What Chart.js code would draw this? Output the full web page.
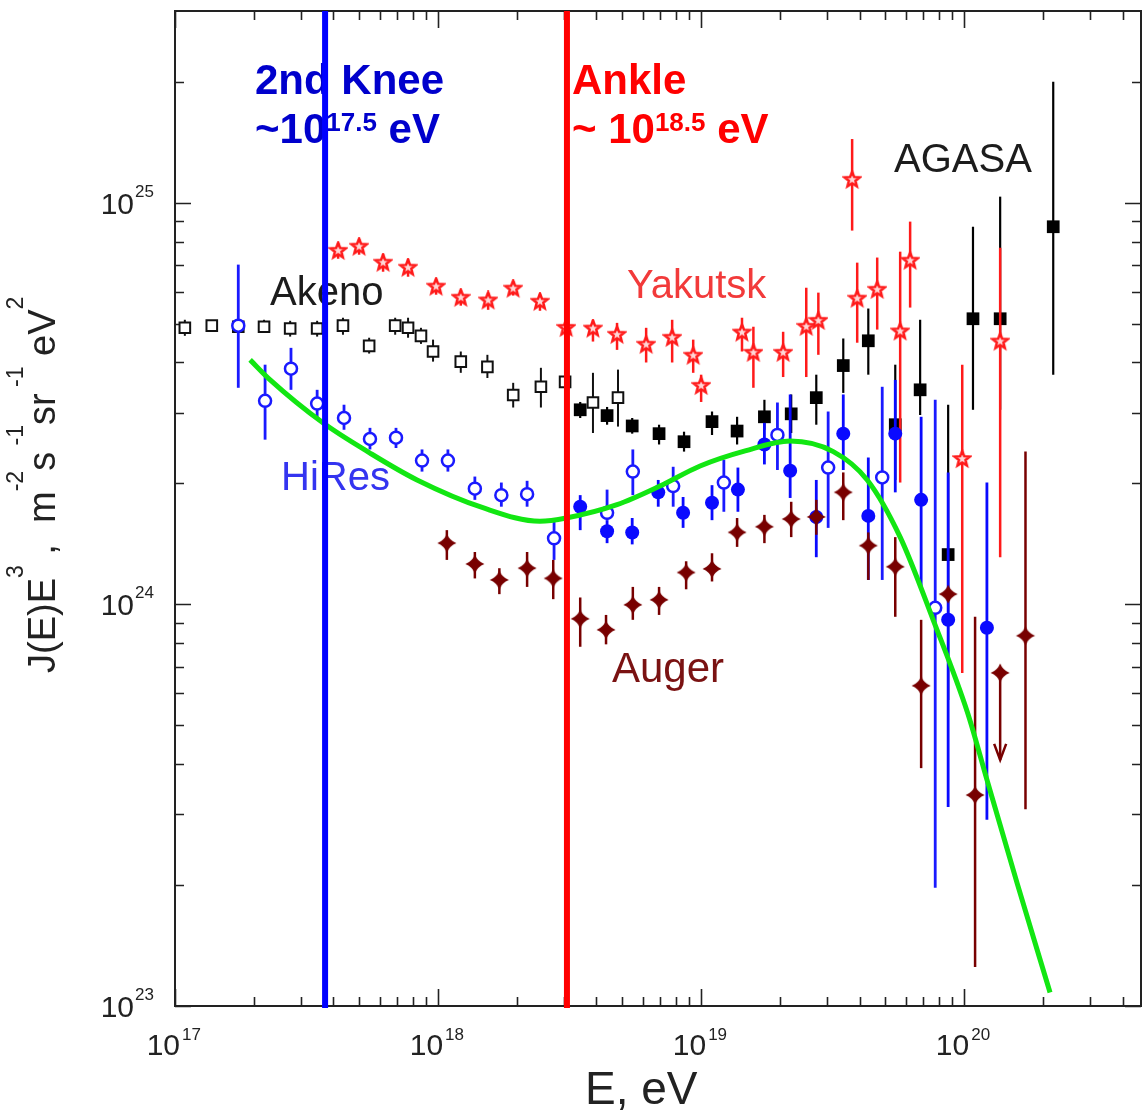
<!DOCTYPE html>
<html>
<head>
<meta charset="utf-8">
<script src="https://cdn.jsdelivr.net/npm/chart.js@4.4.1/dist/chart.umd.min.js"></script>
<style>
  html, body { margin: 0; padding: 0; background: #fff; }
  #chart { display: block; }
</style>
</head>
<body>
<canvas id="chart" width="1142" height="1111"></canvas>
<script>
// E in eV, J(E)E^3 in m^-2 s^-1 sr^-1 eV^2, error bar ends
const akenoE  = [1.09e17, 1.38e17, 1.74e17, 2.18e17, 2.74e17, 3.47e17, 4.35e17, 5.47e17, 6.87e17, 7.69e17, 8.61e17, 9.57e17, 1.22e18, 1.54e18, 1.93e18, 2.46e18, 3.04e18, 3.88e18, 4.83e18];
const akenoJ  = [4.88e24, 4.94e24, 4.91e24, 4.91e24, 4.86e24, 4.86e24, 4.94e24, 4.40e24, 4.94e24, 4.88e24, 4.66e24, 4.26e24, 4.02e24, 3.90e24, 3.32e24, 3.48e24, 3.58e24, 3.18e24, 3.27e24];
const akenoHi = [5.11e24, 5.08e24, 5.08e24, 5.11e24, 5.08e24, 5.08e24, 5.17e24, 4.61e24, 5.17e24, 5.17e24, 4.88e24, 4.56e24, 4.26e24, 4.18e24, 3.56e24, 3.88e24, 3.95e24, 3.77e24, 3.84e24];
const akenoLo = [4.66e24, 4.77e24, 4.75e24, 4.75e24, 4.64e24, 4.64e24, 4.69e24, 4.21e24, 4.69e24, 4.61e24, 4.45e24, 4.02e24, 3.77e24, 3.66e24, 3.09e24, 3.09e24, 3.19e24, 2.67e24, 2.77e24];

const agasaE  = [3.47e18, 4.39e18, 5.47e18, 6.92e18, 8.61e18, 1.10e19, 1.37e19, 1.74e19, 2.20e19, 2.74e19, 3.47e19, 4.32e19, 5.47e19, 6.80e19, 8.69e19, 1.08e20, 1.37e20, 2.18e20];
const agasaJ  = [3.05e24, 2.95e24, 2.78e24, 2.66e24, 2.54e24, 2.85e24, 2.70e24, 2.93e24, 2.98e24, 3.27e24, 3.93e24, 4.53e24, 2.80e24, 3.42e24, 1.33e24, 5.14e24, 5.14e24, 8.71e24];
const agasaHi = [3.19e24, 3.10e24, 2.91e24, 2.80e24, 2.69e24, 3.02e24, 2.93e24, 3.23e24, 3.33e24, 3.73e24, 4.59e24, 5.45e24, 3.95e24, 5.11e24, 3.14e24, 8.71e24, 1.035e25, 2.0e25];
const agasaLo = [2.91e24, 2.80e24, 2.66e24, 2.50e24, 2.40e24, 2.64e24, 2.50e24, 2.72e24, 2.67e24, 2.80e24, 3.36e24, 3.73e24, 2.04e24, 2.96e24, 5.78e23, 3.05e24, 3.05e24, 3.73e24];

const yakutskE  = [4.17e17, 5.01e17, 6.18e17, 7.69e17, 9.83e17, 1.22e18, 1.55e18, 1.93e18, 2.44e18, 3.07e18, 3.88e18, 4.79e18, 6.18e18, 7.76e18, 9.33e18, 1.0e19, 1.43e19, 1.58e19, 2.05e19, 2.51e19, 2.79e19, 3.75e19, 3.92e19, 4.67e19, 5.71e19, 6.23e19, 9.83e19, 1.37e20];
const yakutskJ  = [7.59e24, 7.77e24, 7.09e24, 6.89e24, 6.18e24, 5.80e24, 5.71e24, 6.11e24, 5.67e24, 4.88e24, 4.86e24, 4.69e24, 4.43e24, 4.61e24, 4.16e24, 3.50e24, 4.75e24, 4.23e24, 4.23e24, 4.91e24, 5.08e24, 1.14e25, 5.77e24, 6.07e24, 4.78e24, 7.17e24, 2.30e24, 4.51e24];
const yakutskHi = [7.95e24, 8.13e24, 7.46e24, 7.25e24, 6.47e24, 6.07e24, 5.97e24, 6.37e24, 5.94e24, 5.11e24, 5.11e24, 5.02e24, 4.88e24, 5.11e24, 4.56e24, 3.73e24, 5.17e24, 4.91e24, 4.77e24, 6.14e24, 5.97e24, 1.44e25, 7.09e24, 7.30e24, 7.55e24, 8.97e24, 3.95e24, 7.72e24];
const yakutskLo = [7.25e24, 7.42e24, 6.73e24, 6.54e24, 5.90e24, 5.54e24, 5.41e24, 5.87e24, 5.38e24, 4.66e24, 4.51e24, 4.30e24, 4.00e24, 4.00e24, 3.77e24, 3.19e24, 4.26e24, 3.46e24, 3.68e24, 3.68e24, 4.18e24, 8.52e24, 4.48e24, 4.83e24, 2.01e24, 5.48e24, 6.75e23, 1.31e24];

const hiresOpenE  = [1.74e17, 2.20e17, 2.76e17, 3.47e17, 4.39e17, 5.51e17, 6.92e17, 8.69e17, 1.09e18, 1.38e18, 1.74e18, 2.18e18, 2.76e18, 4.39e18, 5.50e18, 7.83e18, 1.22e19, 1.95e19, 3.04e19, 4.88e19, 7.76e19];
const hiresOpenJ  = [4.94e24, 3.21e24, 3.86e24, 3.16e24, 2.91e24, 2.58e24, 2.60e24, 2.28e24, 2.28e24, 1.94e24, 1.87e24, 1.88e24, 1.46e24, 1.69e24, 2.14e24, 1.97e24, 2.01e24, 2.64e24, 2.19e24, 2.07e24, 9.80e23];
const hiresOpenHi = [7.01e24, 3.95e24, 4.35e24, 3.42e24, 3.14e24, 2.75e24, 2.75e24, 2.43e24, 2.43e24, 2.08e24, 2.01e24, 2.03e24, 1.61e24, 1.93e24, 2.43e24, 2.20e24, 2.29e24, 3.18e24, 3.02e24, 3.48e24, 3.23e24];
const hiresOpenLo = [3.46e24, 2.57e24, 3.42e24, 2.91e24, 2.72e24, 2.43e24, 2.45e24, 2.14e24, 2.14e24, 1.82e24, 1.75e24, 1.75e24, 1.29e24, 1.62e24, 1.87e24, 1.75e24, 1.70e24, 2.16e24, 1.55e24, 1.15e24, 1.97e23];

const hiresFilledE  = [3.47e18, 4.39e18, 5.47e18, 6.87e18, 8.54e18, 1.10e19, 1.38e19, 1.74e19, 2.18e19, 2.74e19, 3.47e19, 4.32e19, 5.47e19, 6.86e19, 8.69e19, 1.22e20];
const hiresFilledJ  = [1.75e24, 1.52e24, 1.51e24, 1.90e24, 1.69e24, 1.79e24, 1.93e24, 2.50e24, 2.15e24, 1.65e24, 2.66e24, 1.66e24, 2.66e24, 1.82e24, 9.15e23, 8.74e23];
const hiresFilledHi = [1.87e24, 1.62e24, 1.64e24, 2.04e24, 1.85e24, 1.98e24, 2.19e24, 2.83e24, 3.33e24, 2.04e24, 3.33e24, 2.32e24, 3.62e24, 2.93e24, 2.13e24, 2.01e24];
const hiresFilledLo = [1.53e24, 1.42e24, 1.41e24, 1.75e24, 1.55e24, 1.62e24, 1.70e24, 2.23e24, 1.84e24, 1.31e24, 2.16e24, 1.15e24, 1.90e24, 1.09e24, 3.13e23, 2.91e23];

const augerE  = [1.08e18, 1.38e18, 1.71e18, 2.18e18, 2.74e18, 3.47e18, 4.35e18, 5.50e18, 6.92e18, 8.77e18, 1.10e19, 1.37e19, 1.74e19, 2.20e19, 2.74e19, 3.47e19, 4.32e19, 5.47e19, 6.86e19, 8.69e19, 1.10e20, 1.71e20];
const augerJ  = [1.42e24, 1.26e24, 1.15e24, 1.23e24, 1.16e24, 9.20e23, 8.64e23, 9.97e23, 1.026e24, 1.20e24, 1.225e24, 1.51e24, 1.56e24, 1.63e24, 1.65e24, 1.90e24, 1.40e24, 1.24e24, 6.27e23, 1.06e24, 3.35e23, 8.35e23];
const augerHi = [1.53e24, 1.35e24, 1.23e24, 1.35e24, 1.29e24, 1.04e24, 9.41e23, 1.105e24, 1.105e24, 1.28e24, 1.34e24, 1.64e24, 1.67e24, 1.80e24, 1.82e24, 2.13e24, 1.51e24, 1.47e24, 9.15e23, 1.10e24, 9.31e23, 2.40e24];
const augerLo = [1.29e24, 1.16e24, 1.06e24, 1.105e24, 1.03e24, 7.84e23, 7.95e23, 9.15e23, 9.41e23, 1.09e24, 1.14e24, 1.39e24, 1.42e24, 1.47e24, 1.49e24, 1.62e24, 1.15e24, 9.31e23, 3.91e23, 1.02e24, 1.25e23, 3.09e23];

// Auger upper limit (arrow)
const augerLimitE   = [1.37e20];
const augerLimitJ   = [6.75e23];
const augerLimitEnd = [4.10e23];

// green model curve
const modelE = [1.93e17, 2.30e17, 3.65e17, 5.51e17, 8.32e17, 1.48e18, 2.44e18, 3.07e18, 4.79e18, 6.98e18, 9.91e18, 1.47e19, 2.18e19, 3.18e19, 4.28e19, 5.71e19, 7.62e19, 1.03e20, 1.22e20, 1.59e20, 2.12e20];
const modelJ = [4.06e24, 3.62e24, 2.83e24, 2.38e24, 2.04e24, 1.74e24, 1.61e24, 1.64e24, 1.77e24, 1.97e24, 2.21e24, 2.41e24, 2.55e24, 2.40e24, 2.04e24, 1.47e24, 9.15e23, 5.37e23, 3.66e23, 2.02e23, 1.08e23];

// vertical markers
const kneeE = 3.72e17;
const ankleE = 3.09e18;

const xTickExponents = [17, 18, 19, 20];
const yTickExponents = [23, 24, 25];

const FONT = '"Liberation Sans", Arial, Helvetica, sans-serif';

function points(xs, ys) {
    return xs.map((x, i) => ({ x: x, y: ys[i] }));
}

function marker(size, draw) {
    const c = document.createElement('canvas');
    c.width = size;
    c.height = size;
    draw(c.getContext('2d'), size / 2);
    return c;
}

const starMarker = marker(20, (g, c) => {
    g.beginPath();
    for (let i = 0; i < 10; i++) {
        const a = -Math.PI / 2 + i * Math.PI / 5;
        const r = i % 2 ? 3.5 : 8;
        g.lineTo(c + r * Math.cos(a), c + r * Math.sin(a));
    }
    g.closePath();
    g.fillStyle = '#ffd6d6';
    g.fill();
    g.lineWidth = 2.5;
    g.strokeStyle = '#ff1a1a';
    g.stroke();
});

const augerMarker = marker(22, (g, c) => {
    const R = 9.5, k = 0.28;
    g.beginPath();
    g.moveTo(c, c - R);
    g.quadraticCurveTo(c + R * k, c - R * k, c + R, c);
    g.quadraticCurveTo(c + R * k, c + R * k, c, c + R);
    g.quadraticCurveTo(c - R * k, c + R * k, c - R, c);
    g.quadraticCurveTo(c - R * k, c - R * k, c, c - R);
    g.fillStyle = '#780000';
    g.fill();
});

// error bars are drawn just before each dataset so layering follows dataset order
const errorBars = {
    id: 'errorBars',
    beforeDatasetDraw(chart, args) {
        const ds = chart.data.datasets[args.index];
        if (!ds.errHi) return;
        const { ctx, chartArea, scales: { x, y } } = chart;
        ctx.save();
        ctx.beginPath();
        ctx.rect(chartArea.left, chartArea.top, chartArea.width, chartArea.height);
        ctx.clip();
        ctx.strokeStyle = ds.errColor;
        ctx.lineWidth = ds.errWidth;
        ds.data.forEach((p, i) => {
            const px = x.getPixelForValue(p.x);
            const yEnd = y.getPixelForValue(ds.errLo[i]);
            ctx.beginPath();
            ctx.moveTo(px, y.getPixelForValue(ds.errHi[i]));
            ctx.lineTo(px, yEnd);
            ctx.stroke();
            if (ds.arrow) {
                ctx.beginPath();
                ctx.moveTo(px - 6, yEnd - 16);
                ctx.lineTo(px, yEnd);
                ctx.lineTo(px + 6, yEnd - 16);
                ctx.stroke();
            }
        });
        ctx.restore();
    }
};

function drawFrame(chart) {
    const { ctx, chartArea: a, scales: { x, y } } = chart;
    ctx.save();
    ctx.strokeStyle = '#222';
    ctx.lineWidth = 2;
    ctx.strokeRect(a.left, a.top, a.right - a.left, a.bottom - a.top);
    ctx.lineWidth = 1.6;
    for (let d = 17; d <= 20; d++) {
        for (let k = 1; k <= 9; k++) {
            const v = k * Math.pow(10, d);
            if (v < x.min || v > x.max) continue;
            const px = Math.round(x.getPixelForValue(v)) + 0.5;
            const len = k === 1 ? 17 : 9;
            ctx.beginPath();
            ctx.moveTo(px, a.bottom); ctx.lineTo(px, a.bottom - len);
            ctx.moveTo(px, a.top); ctx.lineTo(px, a.top + len);
            ctx.stroke();
        }
    }
    for (let d = 23; d <= 25; d++) {
        for (let k = 1; k <= 9; k++) {
            const v = k * Math.pow(10, d);
            if (v < y.min || v > y.max) continue;
            const py = Math.round(y.getPixelForValue(v)) + 0.5;
            const len = k === 1 ? 16 : 9;
            ctx.beginPath();
            ctx.moveTo(a.left, py); ctx.lineTo(a.left + len, py);
            ctx.moveTo(a.right, py); ctx.lineTo(a.right - len, py);
            ctx.stroke();
        }
    }

    ctx.fillStyle = '#222';
    xTickExponents.forEach(e => {
        const px = x.getPixelForValue(Math.pow(10, e));
        ctx.font = '30px ' + FONT;
        ctx.textAlign = 'right';
        ctx.fillText('10', px + 5, 1055);
        ctx.font = '17px ' + FONT;
        ctx.textAlign = 'left';
        ctx.fillText(String(e), px + 7, 1040);
    });
    yTickExponents.forEach(e => {
        const py = y.getPixelForValue(Math.pow(10, e));
        ctx.font = '30px ' + FONT;
        ctx.textAlign = 'right';
        ctx.fillText('10', 134, py + 11);
        ctx.font = '17px ' + FONT;
        ctx.textAlign = 'left';
        ctx.fillText(String(e), 135, py - 6);
    });

    // axis titles
    ctx.textAlign = 'left';
    ctx.font = '46px ' + FONT;
    ctx.fillText('E, eV', 585, 1104);

    ctx.translate(55, 673);
    ctx.rotate(-Math.PI / 2);
    const main = '38px ' + FONT, sup = '23px ' + FONT;
    const parts = [
        ['J(E)E', main, 0], ['3', sup, -32], [' ,  m', main, 0], ['-2', sup, -32],
        ['s', main, 0], [' -1', sup, -32], ['sr', main, 0], [' -1', sup, -32],
        [' eV', main, 0], ['2', sup, -32]
    ];
    let cx = 0;
    parts.forEach(([t, f, dy]) => {
        ctx.font = f;
        ctx.fillText(t, cx, dy);
        cx += ctx.measureText(t).width;
    });
    ctx.restore();
}

function drawRich(ctx, x, y, parts) {
    let cx = x;
    parts.forEach(([t, f, dy]) => {
        ctx.font = f;
        ctx.fillText(t, cx, y + dy);
        cx += ctx.measureText(t).width;
    });
}

function drawAnnotations(chart) {
    const { ctx, chartArea: a, scales: { x } } = chart;
    ctx.save();
    ctx.textAlign = 'left';
    ctx.textBaseline = 'alphabetic';

    ctx.font = '40px ' + FONT;
    ctx.fillStyle = '#1c1c1c';
    ctx.fillText('Akeno', 270, 305);
    ctx.fillText('AGASA', 894, 172);
    ctx.fillStyle = '#f23a3a';
    ctx.fillText('Yakutsk', 627, 298);
    ctx.fillStyle = '#3434f0';
    ctx.fillText('HiRes', 281, 490);
    ctx.font = '42px ' + FONT;
    ctx.fillStyle = '#7a1212';
    ctx.fillText('Auger', 612, 682);

    const big = 'bold 42px ' + FONT, small = 'bold 26px ' + FONT;
    ctx.fillStyle = '#0000cc';
    ctx.font = big;
    ctx.fillText('2nd Knee', 255, 94);
    drawRich(ctx, 255, 143, [['~10', big, 0], ['17.5', small, -12], [' eV', big, 0]]);
    ctx.fillStyle = '#ff0000';
    ctx.font = big;
    ctx.fillText('Ankle', 572, 94);
    drawRich(ctx, 572, 143, [['~ 10', big, 0], ['18.5', small, -12], [' eV', big, 0]]);

    // vertical markers on top of everything
    ctx.lineWidth = 6;
    [[kneeE, '#0000ff'], [ankleE, '#ff0000']].forEach(([e, col]) => {
        const px = x.getPixelForValue(e);
        ctx.strokeStyle = col;
        ctx.beginPath();
        ctx.moveTo(px, a.top);
        ctx.lineTo(px, a.bottom + 2);
        ctx.stroke();
    });
    ctx.restore();
}

const framePlugin = {
    id: 'frame',
    beforeDatasetsDraw: drawFrame,
    afterDatasetsDraw: drawAnnotations
};

// first dataset is drawn on top
const datasets = [
    {
        label: 'model',
        data: points(modelE, modelJ),
        showLine: true,
        borderColor: '#12e612',
        borderWidth: 5,
        pointRadius: 0,
        cubicInterpolationMode: 'monotone',
        fill: false
    },
    {
        label: 'Auger limit',
        data: points(augerLimitE, augerLimitJ),
        pointStyle: augerMarker,
        errHi: augerLimitJ, errLo: augerLimitEnd, errColor: '#780000', errWidth: 2.5, arrow: true
    },
    {
        label: 'Auger',
        data: points(augerE, augerJ),
        pointStyle: augerMarker,
        errHi: augerHi, errLo: augerLo, errColor: '#780000', errWidth: 2.5
    },
    {
        label: 'HiRes mono',
        data: points(hiresFilledE, hiresFilledJ),
        pointStyle: 'circle', pointRadius: 7, backgroundColor: '#0a0aff', borderWidth: 0,
        errHi: hiresFilledHi, errLo: hiresFilledLo, errColor: '#0a0aff', errWidth: 2.8
    },
    {
        label: 'HiRes',
        data: points(hiresOpenE, hiresOpenJ),
        pointStyle: 'circle', pointRadius: 6, backgroundColor: '#fff', borderColor: '#1a1aff', borderWidth: 2.5,
        errHi: hiresOpenHi, errLo: hiresOpenLo, errColor: '#1a1aff', errWidth: 2.8
    },
    {
        label: 'Yakutsk',
        data: points(yakutskE, yakutskJ),
        pointStyle: starMarker,
        errHi: yakutskHi, errLo: yakutskLo, errColor: '#ff1a1a', errWidth: 2.5
    },
    {
        label: 'AGASA',
        data: points(agasaE, agasaJ),
        pointStyle: 'rect', pointRadius: 9, backgroundColor: '#000', borderWidth: 0,
        errHi: agasaHi, errLo: agasaLo, errColor: '#000', errWidth: 2.2
    },
    {
        label: 'Akeno',
        data: points(akenoE, akenoJ),
        pointStyle: 'rect', pointRadius: 7.5, backgroundColor: '#fff', borderColor: '#111', borderWidth: 2,
        errHi: akenoHi, errLo: akenoLo, errColor: '#111', errWidth: 2
    }
];

new Chart(document.getElementById('chart'), {
    type: 'scatter',
    data: { datasets: datasets },
    options: {
        responsive: false,
        animation: false,
        devicePixelRatio: 1,
        layout: { autoPadding: false, padding: { top: 11, right: 1, left: 0, bottom: 0 } },
        plugins: { legend: { display: false }, tooltip: { enabled: false } },
        scales: {
            x: {
                type: 'logarithmic',
                min: 1e17,
                max: 4.7e20,
                grid: { display: false },
                border: { display: false },
                ticks: { display: false },
                afterFit: s => { s.height = 105; }
            },
            y: {
                type: 'logarithmic',
                min: 1e23,
                max: 3e25,
                grid: { display: false },
                border: { display: false },
                ticks: { display: false },
                afterFit: s => { s.width = 175; }
            }
        }
    },
    plugins: [errorBars, framePlugin]
});
</script>
</body>
</html>
